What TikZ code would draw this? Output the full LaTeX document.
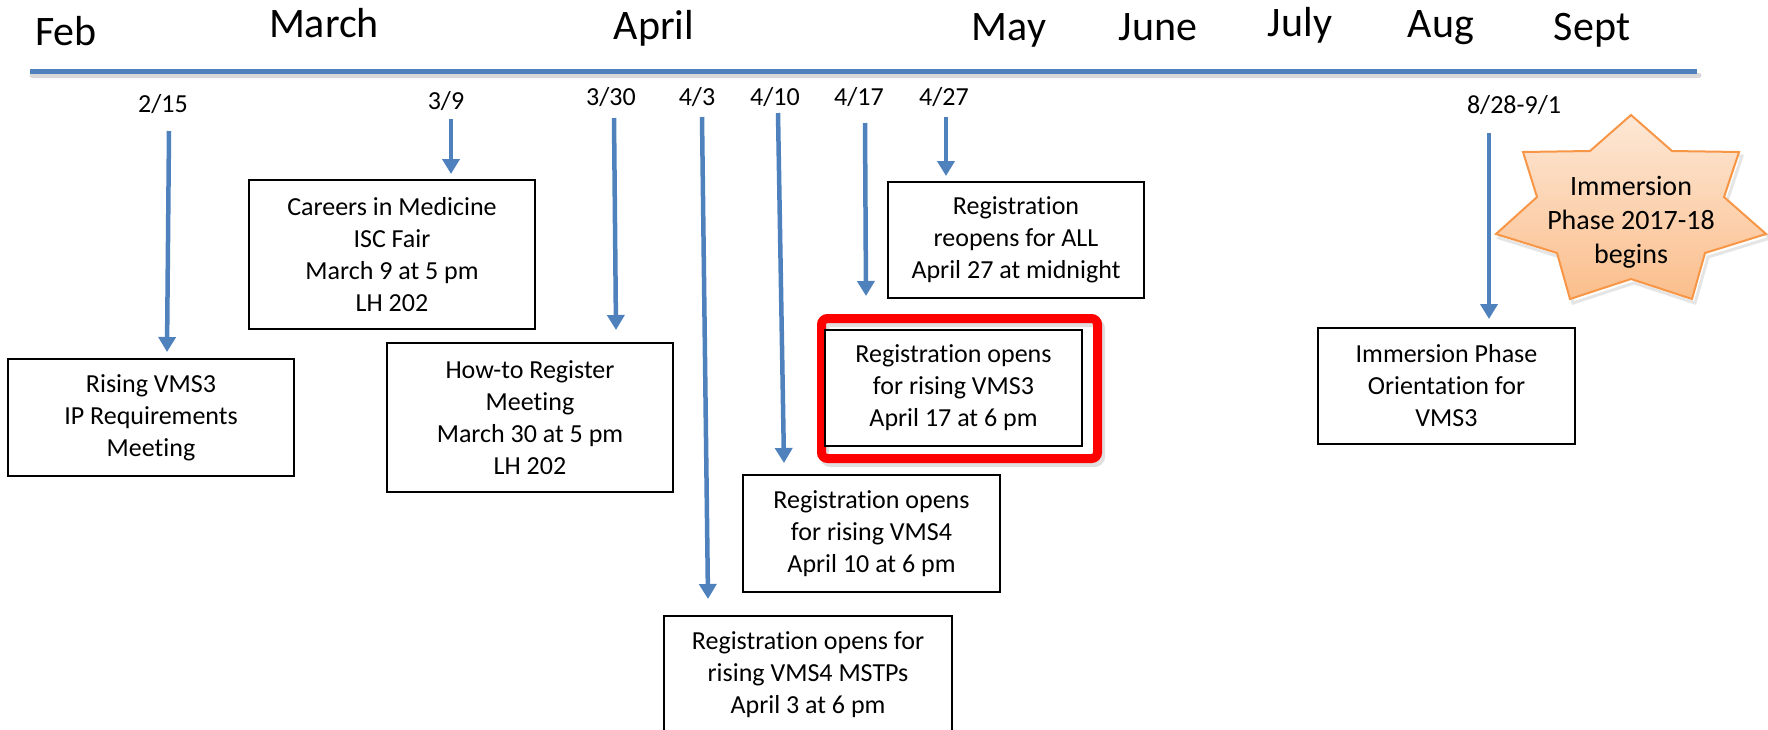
\documentclass[tikz,border=0pt]{standalone}
\usepackage{fontspec}
\setmainfont{Carlito}[Ligatures={NoCommon}]
\usetikzlibrary{arrows.meta}
\newcommand{\tiNL}{t\kern0pt i}
\definecolor{tlblue}{RGB}{79,129,189}
\definecolor{starline}{RGB}{247,150,70}
\definecolor{startop}{RGB}{253,232,214}
\definecolor{starbot}{RGB}{251,190,140}
\definecolor{hired}{RGB}{255,0,0}
\tikzset{
  month/.style={anchor=base, font=\fontsize{42}{50}\selectfont},
  datelbl/.style={anchor=base, font=\fontsize{26}{32}\selectfont},
  evbox/.style={draw=black, line width=2pt, fill=white, align=center, inner sep=0pt,
    font=\fontsize{26}{32}\selectfont},
  tlarrow/.style={draw=tlblue, line width=4.5pt, -{Triangle[width=17pt,length=15pt]}},
}
\begin{document}
\begin{tikzpicture}[x=1pt,y=-1pt]
\useasboundingbox (0,0) rectangle (1768,729);
% timeline
\draw[black!15, line width=5pt, line cap=round] (32,75) -- (1699,75);
\draw[tlblue, line width=5pt] (30,71.5) -- (1697,71.5);
% months
\node[month] (feb) at (66,45) {Feb};
\node[month] (mar) at (324,37.5) {March};
\node[month] (apr) at (654,39.5) {April};
\node[month] (may) at (1009,40) {May};
\node[month] (jun) at (1158,40) {June};
\node[month] (jul) at (1300,36) {July};
\node[month] (aug) at (1441,37) {Aug};
\node[month] (sep) at (1592,40.5) {Sept};
% dates
\node[datelbl] (d215) at (163,112.5) {2/15};
\node[datelbl] (d39) at (446,109) {3/9};
\node[datelbl] (d330) at (611,105) {3/30};
\node[datelbl] (d43) at (697,105) {4/3};
\node[datelbl] (d410) at (775,105) {4/10};
\node[datelbl] (d417) at (859,105) {4/17};
\node[datelbl] (d427) at (944,105) {4/27};
\node[datelbl] (d828) at (1514,113) {8/28-9/1};
% boxes
\node[evbox, minimum width=286pt, minimum height=117pt] (rising) at (151,417.5)
  {Rising VMS3\\IP Requirements\\Meeting};
\node[evbox, minimum width=286pt, minimum height=149pt] (careers) at (392,254.5)
  {Careers in Medicine\\ISC Fair\\March 9 at 5 pm\\LH 202};
\node[evbox, minimum width=286pt, minimum height=149pt] (howto) at (530,417.5)
  {How-to Register\\Meeting\\March 30 at 5 pm\\LH 202};
\node[evbox, minimum width=256pt, minimum height=116pt] (all) at (1016,240)
  {Registra\tiNL on\\reopens for ALL\\April 27 at midnight};
% red highlight
\draw[black!12, line width=9pt, rounded corners=6pt] (824.5,322.5) rectangle (1100.5,462.5);
\draw[hired, line width=9pt, rounded corners=6pt] (821.5,318.5) rectangle (1097.5,458.5);
\node[evbox, minimum width=257pt, minimum height=116pt] (vms3) at (953.5,388)
  {Registra\tiNL on opens\\for rising VMS3\\April 17 at 6 pm};
\node[evbox, minimum width=257pt, minimum height=117pt] (vms4) at (871.5,533.5)
  {Registra\tiNL on opens\\for rising VMS4\\April 10 at 6 pm};
\node[evbox, minimum width=288pt, minimum height=117pt] (mstp) at (808,674.5)
  {Registra\tiNL on opens for\\rising VMS4 MSTPs\\April 3 at 6 pm};
\node[evbox, minimum width=257pt, minimum height=116pt] (orient) at (1446.5,386)
  {Immersion Phase\\Orienta\tiNL on for\\VMS3};
% star
\draw[black!10, line width=3pt]
  (1634,119) -- (1675,155) -- (1742,156) -- (1727,201) -- (1770,238) -- (1708,257)
  -- (1695,303) -- (1634,283) -- (1573,303) -- (1560,257) -- (1499,238) -- (1540,201)
  -- (1526,156) -- (1593,155) -- cycle;
\draw[starline, line width=2pt, top color=startop, bottom color=starbot]
  (1631,115) -- (1672,151) -- (1739,152) -- (1724,197) -- (1766,234) -- (1705,253)
  -- (1692,299) -- (1631,279) -- (1570,299) -- (1557,253) -- (1496,234) -- (1537,197)
  -- (1523,152) -- (1590,151) -- cycle;
\node[align=center, font=\fontsize{28}{34}\selectfont, inner sep=0pt] (star) at (1631,222)
  {Immersion\\Phase 2017-18\\begins};
% arrow end points
\coordinate (s215) at (169,131); \coordinate (e215) at (167,352);
\coordinate (s39) at (451,119);  \coordinate (e39) at (451,174);
\coordinate (s330) at (614,118); \coordinate (e330) at (616,330);
\coordinate (s43) at (702,117);  \coordinate (e43) at (708,599);
\coordinate (s410) at (778,113); \coordinate (e410) at (784,463);
\coordinate (s417) at (865,123); \coordinate (e417) at (866,296);
\coordinate (s427) at (946,117); \coordinate (e427) at (946,176);
\coordinate (s828) at (1489,133); \coordinate (e828) at (1489,319);
\foreach \a in {215,39,330,43,410,417,427,828}
  \draw[tlarrow] (s\a) -- (e\a);
\end{tikzpicture}
\end{document}
